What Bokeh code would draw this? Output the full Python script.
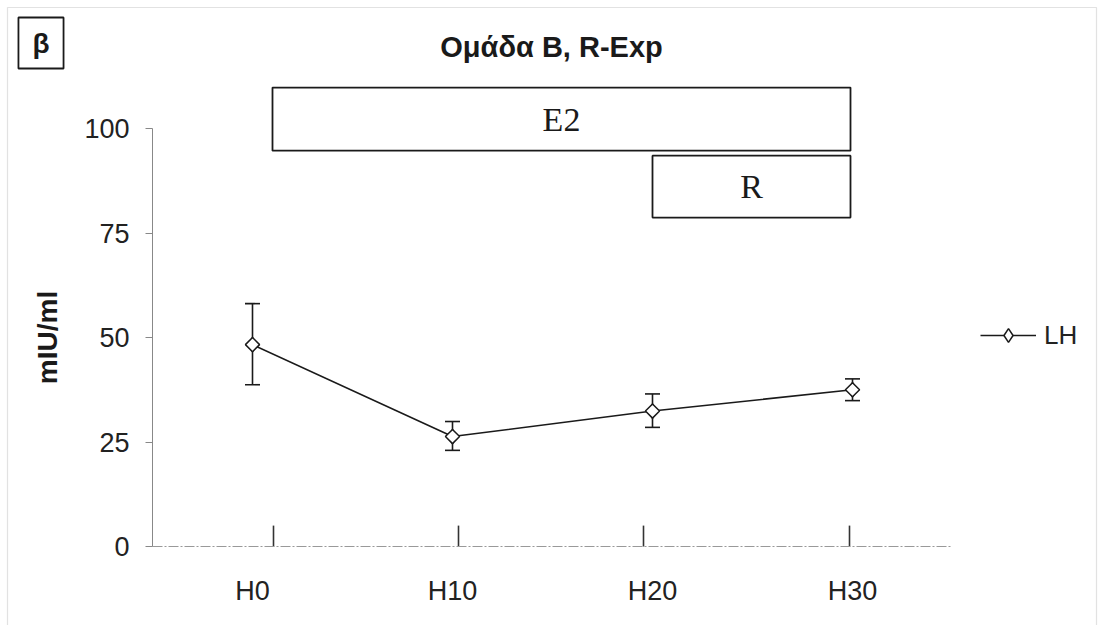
from bokeh.plotting import figure
from bokeh.models import (ColumnDataSource, Whisker, TeeHead, Label, Legend, LegendItem,
                          FixedTicker, BoxAnnotation, Range1d)
from bokeh.core.properties import value
from bokeh.embed import file_html
from bokeh.resources import INLINE
import math

# ---- data ----
times = ["H0", "H10", "H20", "H30"]
lh_mean = [48.3, 26.3, 32.4, 37.5]
lh_upper = [58.1, 29.9, 36.5, 40.1]
lh_lower = [38.7, 23.0, 28.5, 34.9]

treat_labels = ["E2", "R"]
treat_start = [0.6, 2.5]
treat_end = [3.49, 3.49]
treat_bottom = [94.7, 78.7]
treat_top = [109.8, 93.5]

event_x = [0.605, 1.53, 2.455, 3.485]
event_h = 5.0

y_ticks = [0, 25, 50, 75, 100]

SANS = "Liberation Sans"
SERIF = "Liberation Serif"
INK = "#1a1a1a"

# ---- layout (pixels) ----
W, H = 1100, 625
ORIGIN_PX = (152, 546)     # where (0, 0) sits on the canvas
PX_PER_X = 200.0
PX_PER_Y = 4.18

x0 = -ORIGIN_PX[0] / PX_PER_X
x1 = x0 + W / PX_PER_X
y1 = ORIGIN_PX[1] / PX_PER_Y
y0 = y1 - H / PX_PER_Y


def dx(px):
    return x0 + px / PX_PER_X


def dy(py):
    return y1 - py / PX_PER_Y


x_pos = [i + 0.5 for i in range(len(times))]

p = figure(width=W, height=H, output_backend="svg", toolbar_location=None,
           x_range=Range1d(x0, x1), y_range=Range1d(y0, y1),
           min_border=0)
p.xgrid.visible = False
p.ygrid.visible = False
p.outline_line_color = None
p.background_fill_color = "white"
p.border_fill_color = "white"

# outer frame border (no bottom edge visible)
p.add_layout(BoxAnnotation(left=dx(7), right=dx(1096), top=dy(7), bottom=y0 - 20,
                           fill_alpha=0, line_color="#a0a0a0", line_width=1.2))

# axes
yax = p.yaxis[0]
yax.fixed_location = 0
yax.ticker = FixedTicker(ticks=y_ticks)
yax.bounds = (0, 100)
yax.axis_line_color = "#888888"
yax.major_tick_line_color = "#888888"
yax.major_tick_out = 7
yax.major_tick_in = 0
yax.minor_tick_line_color = None
yax.major_label_text_font = SANS
yax.major_label_text_font_size = "27px"
yax.major_label_text_color = "#222222"
yax.major_label_standoff = 16
yax.axis_label = "mIU/ml"
yax.axis_label_text_font = SANS
yax.axis_label_text_font_style = "bold"
yax.axis_label_text_font_size = "28px"
yax.axis_label_text_color = INK
yax.axis_label_standoff = 18

xax = p.xaxis[0]
xax.fixed_location = 0
xax.ticker = FixedTicker(ticks=x_pos)
xax.bounds = (0, len(times))
xax.major_label_overrides = {x: t for x, t in zip(x_pos, times)}
xax.axis_line_color = "#999999"
xax.axis_line_dash = "10 2 2 2"
xax.major_tick_line_color = None
xax.minor_tick_line_color = None
xax.major_label_text_font = SANS
xax.major_label_text_font_size = "27px"
xax.major_label_text_color = "#222222"
xax.major_label_standoff = 23

# event ticks on the x axis
p.segment(x0=event_x, y0=[0] * len(event_x), x1=event_x, y1=[event_h] * len(event_x),
          line_color="#333333", line_width=1.6)

# treatment boxes
tsrc = ColumnDataSource(dict(left=treat_start, right=treat_end, bottom=treat_bottom, top=treat_top,
                             label=treat_labels,
                             cx=[(a + b) / 2 for a, b in zip(treat_start, treat_end)],
                             cy=[(a + b) / 2 for a, b in zip(treat_bottom, treat_top)]))
p.quad(left="left", right="right", bottom="bottom", top="top", source=tsrc,
       fill_color="white", line_color=INK, line_width=1.8)
p.text(x="cx", y="cy", text="label", source=tsrc, text_align="center", text_baseline="middle",
       text_font=value(SERIF), text_font_size="34px", text_color=INK)

# series
src = ColumnDataSource(dict(x=x_pos, y=lh_mean, hi=lh_upper, lo=lh_lower))
p.add_layout(Whisker(source=src, base="x", upper="hi", lower="lo", line_color=INK, line_width=1.6,
                     upper_head=TeeHead(size=15, line_color=INK, line_width=1.6),
                     lower_head=TeeHead(size=15, line_color=INK, line_width=1.6)))
ln = p.line("x", "y", source=src, line_color=INK, line_width=1.6)
# diamond key marker (used for the legend), covered by the square-diamond on the plot
key = p.scatter("x", "y", source=src, marker="diamond", size=14,
                fill_color="white", line_color=INK, line_width=1.5)
sc = p.scatter("x", "y", source=src, marker="square", size=10, angle=math.pi / 4,
               fill_color="white", line_color=INK, line_width=1.5)

legend = Legend(items=[LegendItem(label="LH", renderers=[ln, key])], location=(980, H - 335 - 17),
                border_line_color=None, background_fill_alpha=0, padding=0, margin=0,
                glyph_width=56, glyph_height=34, label_height=34, label_standoff=8,
                label_text_font=SANS, label_text_font_size="26px", label_text_color="#222222")
p.add_layout(legend, "center")

# title and panel letter
p.add_layout(Label(x=dx(551), y=dy(46), text="Ομάδα Β, R-Exp", text_align="center",
                   text_baseline="middle", text_font=SANS, text_font_style="bold",
                   text_font_size="29px", text_color=INK))
p.add_layout(Label(x=dx(40.5), y=dy(42.5), text="β", text_align="center", text_baseline="middle",
                   text_font=SANS, text_font_style="bold", text_font_size="28px", text_color=INK,
                   border_line_color=INK, border_line_width=1.8,
                   padding=dict(left=14, right=14, top=10, bottom=10)))

open("out.html", "w").write(file_html(p, INLINE))
